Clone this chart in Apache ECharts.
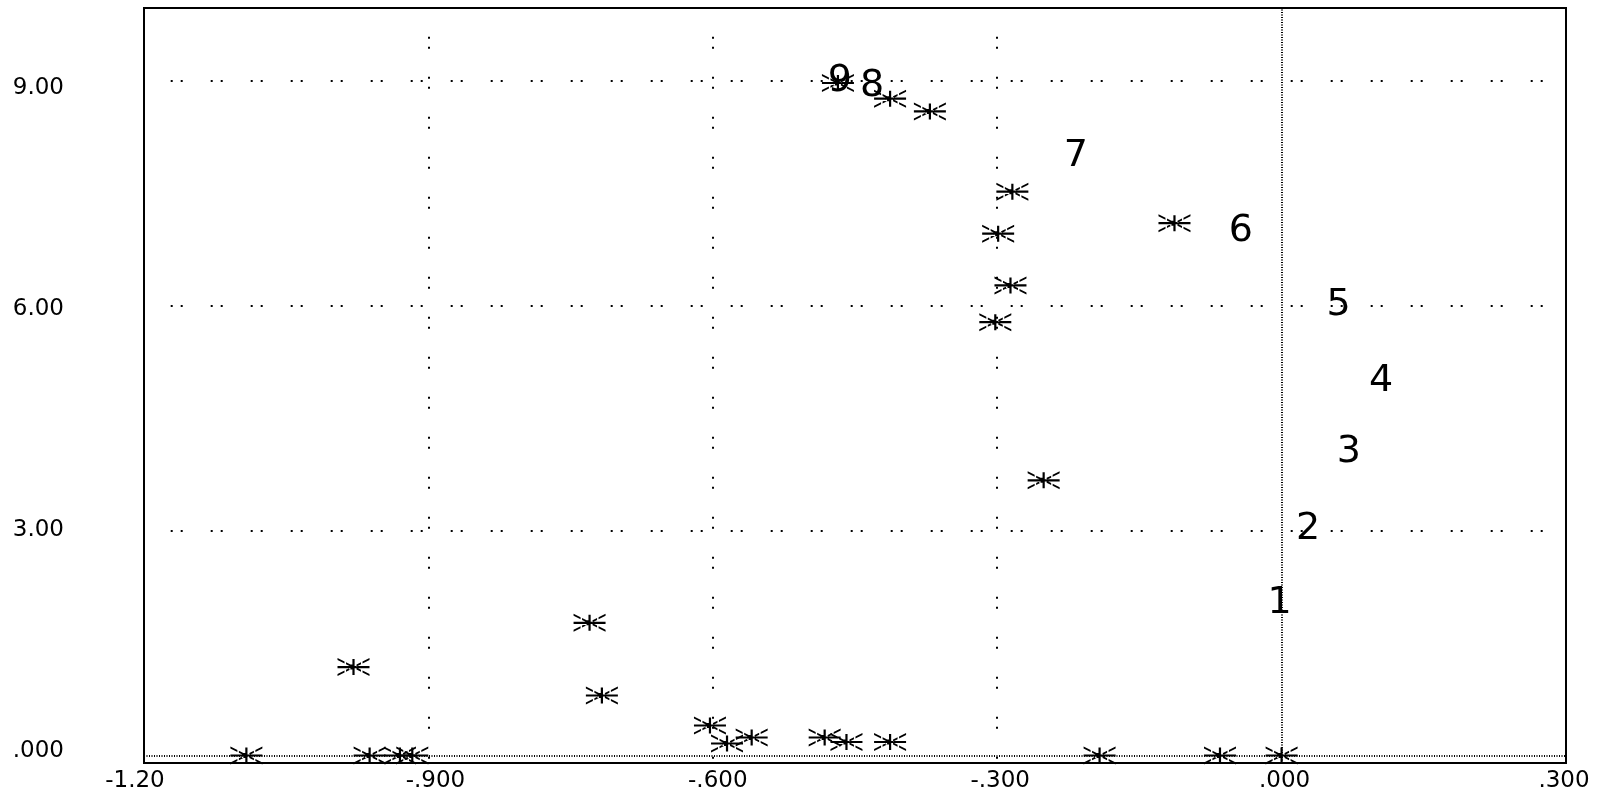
<!DOCTYPE html>
<html>
<head>
<meta charset="utf-8">
<script src="https://cdn.jsdelivr.net/npm/echarts@6/dist/echarts.min.js"></script>
<style>
html,body{margin:0;padding:0;background:#fff;}
#chart{width:1603px;height:793px;}
</style>
</head>
<body>
<div id="chart"></div>
<script>
// ---- data ----
const xTickValues = [-1.2, -0.9, -0.6, -0.3, 0, 0.3];
const xTickLabels = ['-1.20', '-.900', '-.600', '-.300', '.000', '.300'];
const yTickValues = [0, 3, 6, 9];
const yTickLabels = ['.000', '3.00', '6.00', '9.00'];
const xGridValues = [-0.9, -0.6, -0.3];
const yGridValues = [3, 6, 9];

const starX = [-1.092, -0.962, -0.930, -0.917, -0.192, -0.065, 0.000,
               -0.979, -0.730, -0.717, -0.603, -0.585, -0.559, -0.482, -0.459, -0.413,
               -0.468, -0.413, -0.371, -0.284, -0.299, -0.286, -0.302, -0.113, -0.251];
const starY = [0, 0, 0, 0, 0, 0, 0,
               1.18, 1.77, 0.80, 0.40, 0.16, 0.24, 0.24, 0.18, 0.18,
               8.97, 8.76, 8.59, 7.52, 6.96, 6.27, 5.78, 7.10, 3.67];

const numLabels = ['1', '2', '3', '4', '5', '6', '7', '8', '9'];
const numX = [-0.002, 0.028, 0.071, 0.105, 0.060, -0.043, -0.217, -0.432, -0.466];
const numY = [2.03, 3.02, 4.04, 5.00, 6.01, 7.00, 8.00, 8.93, 9.00];

// ---- styles ----
const FONT = 'DejaVu Sans';
const xLabelPad = [[0, 18, 0, 0], [0, 0, 0, 14], [0, 0, 0, 10], [0, 0, 0, 6], [0, 0, 0, 6], [0, 4, 0, 0]];

const starPath = 'path://' +
  'M0 7.9 H32 V10.1 H0 Z ' +
  'M14.9 1 H17.1 V17 H14.9 Z ' +
  'M0 0 L7 3.5 L7 5.5 L0 2 Z ' +
  'M32 0 L25 3.5 L25 5.5 L32 2 Z ' +
  'M0 18 L7 14.5 L7 12.5 L0 16 Z ' +
  'M32 18 L25 14.5 L25 12.5 L32 16 Z ' +
  'M8.5 4.3 L13 6.5 L13 8.5 L8.5 6.3 Z ' +
  'M23.5 4.3 L19 6.5 L19 8.5 L23.5 6.3 Z ' +
  'M8.5 13.7 L13 11.5 L13 9.5 L8.5 11.7 Z ' +
  'M23.5 13.7 L19 11.5 L19 9.5 L23.5 11.7 Z ' +
  'M11.5 6.5 H16 V11.5 H11.5 Z';

const rich = {};
xLabelPad.forEach((p, i) => {
  rich['s' + i] = { fontFamily: FONT, fontSize: 23, color: '#000', padding: p };
});

const gridDotH = { color: '#000', width: 2, type: [2, 8, 2, 28], dashOffset: 13.3, opacity: 1 };
const gridDotV = { color: '#000', width: 2, type: [2, 8, 2, 28], dashOffset: 5.7, opacity: 1 };
const zeroLine = { color: '#000', width: 2, type: [1, 1.5], opacity: 1 };

const markData = [];
yGridValues.forEach(v => markData.push({ yAxis: v, lineStyle: gridDotH }));
xGridValues.forEach(v => markData.push({ xAxis: v, lineStyle: gridDotV }));
markData.push({ yAxis: 0, lineStyle: zeroLine });
markData.push({ xAxis: 0, lineStyle: zeroLine });

const chart = echarts.init(document.getElementById('chart'), null, { renderer: 'canvas' });
chart.setOption({
  animation: false,
  backgroundColor: '#fff',
  grid: { left: 144, right: 37, top: 8, bottom: 30, show: true, borderColor: '#000', borderWidth: 2, backgroundColor: 'transparent' },
  xAxis: {
    type: 'value', min: -1.2, max: 0.3, interval: 0.3,
    axisLine: { show: false }, axisTick: { show: false }, splitLine: { show: false },
    axisLabel: {
      margin: 7, fontFamily: FONT, fontSize: 23, color: '#000',
      formatter: function (v) {
        const i = xTickValues.findIndex(t => Math.abs(t - v) < 1e-6);
        return i < 0 ? '' : '{s' + i + '|' + xTickLabels[i] + '}';
      },
      rich: rich
    }
  },
  yAxis: [{
    type: 'value', min: -0.1, max: 9.97,
    axisLine: { show: false }, axisTick: { show: false }, splitLine: { show: false },
    axisLabel: { show: false }
  }, {
    type: 'value', min: -0.166, max: 10.089, position: 'left',
    axisLine: { show: false }, axisTick: { show: false }, splitLine: { show: false },
    axisLabel: {
      customValues: yTickValues,
      margin: 80, align: 'right', fontFamily: FONT, fontSize: 23, color: '#000',
      formatter: function (v) {
        const i = yTickValues.findIndex(t => Math.abs(t - v) < 1e-6);
        return i < 0 ? '' : yTickLabels[i];
      }
    }
  }],
  series: [{
    type: 'scatter', yAxisIndex: 0, silent: true,
    data: starX.map((x, i) => [x, starY[i]]),
    symbol: starPath, symbolSize: [32, 18], symbolKeepAspect: false,
    itemStyle: { color: '#000', opacity: 1 },
    z: 3,
    markLine: {
      silent: true, symbol: ['none', 'none'], label: { show: false },
      animation: false, data: markData
    }
  }, {
    type: 'scatter', yAxisIndex: 0, silent: true,
    data: numX.map((x, i) => ({ value: [x, numY[i]], name: numLabels[i] })),
    symbol: 'circle', symbolSize: 1,
    itemStyle: { color: 'rgba(0,0,0,0)', opacity: 1 },
    z: 4,
    label: {
      show: true, position: 'inside', formatter: '{b}', opacity: 1,
      fontFamily: FONT, fontSize: 38, color: '#000', align: 'center', verticalAlign: 'middle'
    }
  }]
});
</script>
</body>
</html>
